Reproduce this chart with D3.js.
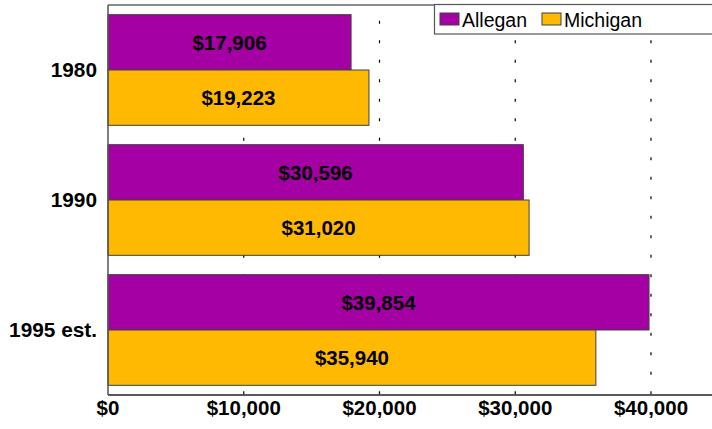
<!DOCTYPE html>
<html><head><meta charset="utf-8">
<script src="https://cdn.jsdelivr.net/npm/d3@7"></script>
<style>body{margin:0;background:#fff}svg{display:block}text{font-family:Arial,"Liberation Sans",sans-serif}</style>
</head><body><svg id="c" width="712" height="429"></svg>
<script>
const categories = ["1980", "1990", "1995 est."];
const seriesNames = ["Allegan", "Michigan"];
const allegan = [17906, 30596, 39854];
const michigan = [19223, 31020, 35940];
const tickValues = [0, 10000, 20000, 30000, 40000];
const colors = ["#A400A4", "#FFB900"];

(function () {
const svg = d3.select("#c");
const pLeft = 108, pTop = 5, pBottom = 395;
const x = d3.scaleLinear().domain([0, 45000]).range([pLeft, pLeft + 4.5 * 135.75]);
const y = d3.scaleBand().domain(categories).range([pTop, pBottom]).paddingInner(0).paddingOuter(0);
const inner = d3.scaleBand().domain(seriesNames).range([0, y.bandwidth()]).paddingOuter(0.175).paddingInner(0);

// gridlines
svg.append("g").selectAll("line").data(tickValues.filter(d => d > 0)).join("line")
  .attr("x1", d => x(d)).attr("x2", d => x(d)).attr("y1", pTop).attr("y2", pBottom)
  .attr("stroke", "#000").attr("stroke-width", 1.2)
  .attr("stroke-dasharray", "3,16.5").attr("stroke-dashoffset", 3.7);

// bars
const data = categories.map((c, i) => ({cat: c, vals: [allegan[i], michigan[i]]}));
const g = svg.append("g").selectAll("g").data(data).join("g")
  .attr("transform", d => `translate(0,${y(d.cat)})`);
g.selectAll("rect").data(d => d.vals.map((v, j) => ({v, s: seriesNames[j], j}))).join("rect")
  .attr("x", x(0)).attr("y", d => inner(d.s))
  .attr("width", d => x(d.v) - x(0)).attr("height", inner.bandwidth())
  .attr("fill", d => colors[d.j]).attr("stroke", "#404040").attr("stroke-width", 1);
g.selectAll("text").data(d => d.vals.map((v, j) => ({v, s: seriesNames[j], j}))).join("text")
  .attr("x", d => (x(d.v) + x(0)) / 2).attr("y", d => inner(d.s) + inner.bandwidth() / 2)
  .attr("dy", "0.36em").attr("text-anchor", "middle")
  .attr("font-size", 20.5).attr("font-weight", "bold").attr("fill", "#000")
  .text(d => "$" + d3.format(",")(d.v));

// frame
svg.append("line").attr("x1", pLeft).attr("x2", 712).attr("y1", pTop).attr("y2", pTop).attr("stroke", "#666").attr("stroke-width", 1.5);
svg.append("line").attr("x1", pLeft).attr("x2", 712).attr("y1", pBottom).attr("y2", pBottom).attr("stroke", "#222").attr("stroke-width", 1.5);
svg.append("line").attr("x1", pLeft).attr("x2", pLeft).attr("y1", pTop).attr("y2", pBottom).attr("stroke", "#555").attr("stroke-width", 1.5);

// category labels
svg.append("g").selectAll("text").data(categories).join("text")
  .attr("x", 97).attr("y", d => y(d) + y.bandwidth() / 2).attr("dy", "0.36em")
  .attr("text-anchor", "end").attr("font-size", 20.8).attr("font-weight", "bold").text(d => d);

// x tick labels
svg.append("g").selectAll("text").data(tickValues).join("text")
  .attr("x", d => x(d)).attr("y", 415).attr("text-anchor", "middle")
  .attr("font-size", 20.5).attr("font-weight", "bold")
  .text(d => "$" + d3.format(",")(d));

// legend
const lg = svg.append("g");
lg.append("rect").attr("x", 434.5).attr("y", 4.5).attr("width", 290).attr("height", 29.5)
  .attr("fill", "#fff").attr("stroke", "#555").attr("stroke-width", 1.2);
const lx = [440, 542];
seriesNames.forEach((s, i) => {
  lg.append("rect").attr("x", lx[i]).attr("y", 13).attr("width", 19).attr("height", 12)
    .attr("fill", colors[i]).attr("stroke", "#404040").attr("stroke-width", 1);
  lg.append("text").attr("x", lx[i] + 22).attr("y", 27).attr("font-size", 19.5).text(s);
});
})();
</script></body></html>
